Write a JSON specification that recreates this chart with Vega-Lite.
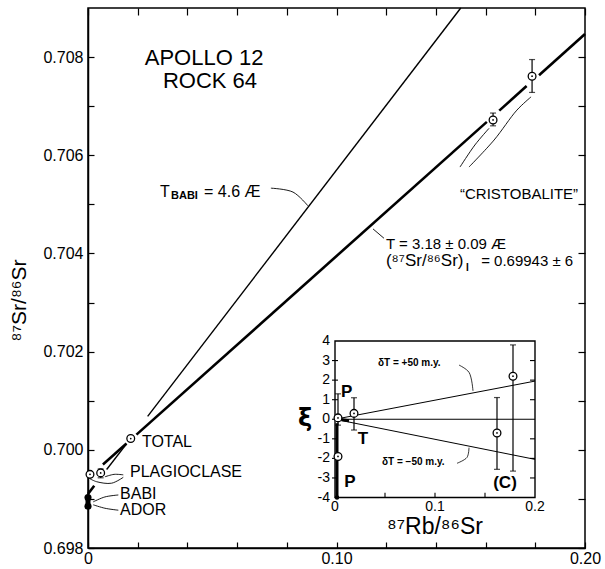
{
  "$schema": "https://vega.github.io/schema/vega-lite/v6.json",
  "width": 497,
  "height": 540,
  "autosize": {"type": "none"},
  "padding": {"left": 88, "top": 8, "right": 20, "bottom": 21},
  "background": "white",
  "config": {
    "view": {"stroke": "black", "strokeWidth": 1.5},
    "font": "Liberation Sans",
    "text": {"font": "Liberation Sans", "color": "black"}
  },
  "datasets": {
    "iso": [
      {"seg": "a", "x": 0.006, "y": 0.69970}, {"seg": "a", "x": 0.0155, "y": 0.70013},
      {"seg": "b", "x": 0.0195, "y": 0.70031}, {"seg": "b", "x": 0.1605, "y": 0.70668},
      {"seg": "c", "x": 0.1655, "y": 0.70691}, {"seg": "c", "x": 0.1765, "y": 0.70741},
      {"seg": "d", "x": 0.1815, "y": 0.70763}, {"seg": "d", "x": 0.2, "y": 0.70847},
      {"seg": "e", "x": 0.0, "y": 0.69910}, {"seg": "e", "x": 0.0025, "y": 0.69927}
    ],
    "babi": [
      {"seg": "a", "x": 0.0075, "y": 0.69960}, {"seg": "a", "x": 0.0155, "y": 0.70012},
      {"seg": "b", "x": 0.024, "y": 0.70068}, {"seg": "b", "x": 0.15, "y": 0.709}
    ],
    "mainPts": [
      {"s": "total", "x": 0.0172, "y": 0.70023},
      {"s": "plag1", "x": 0.0008, "y": 0.69950},
      {"s": "plag2", "x": 0.0051, "y": 0.69953},
      {"s": "cr1", "x": 0.163, "y": 0.70672},
      {"s": "cr2", "x": 0.1787, "y": 0.70761}
    ],
    "mainErr": [
      {"s": "plag2", "x": 0.0051, "lo": 0.69943, "hi": 0.69961},
      {"s": "cr1", "x": 0.163, "lo": 0.70660, "hi": 0.70686},
      {"s": "cr2", "x": 0.1787, "lo": 0.70728, "hi": 0.70795}
    ],
    "blob": [
      {"s": "BABI", "x": 0.0, "y": 0.69903},
      {"s": "ADOR", "x": 0.0, "y": 0.69885}
    ],
    "mainCurves": [
      {"c": "tbabi", "o": 1, "x": 0.0736, "y": 0.70533}, {"c": "tbabi", "o": 2, "x": 0.0825, "y": 0.70525}, {"c": "tbabi", "o": 3, "x": 0.0885, "y": 0.70497},
      {"c": "t318", "o": 1, "x": 0.1191, "y": 0.70431}, {"c": "t318", "o": 2, "x": 0.1147, "y": 0.70450},
      {"c": "crA", "o": 1, "x": 0.1497, "y": 0.70576}, {"c": "crA", "o": 2, "x": 0.1557, "y": 0.70621}, {"c": "crA", "o": 3, "x": 0.1614, "y": 0.70655},
      {"c": "crB", "o": 1, "x": 0.1533, "y": 0.70576}, {"c": "crB", "o": 2, "x": 0.1634, "y": 0.70631}, {"c": "crB", "o": 3, "x": 0.1726, "y": 0.70692}, {"c": "crB", "o": 4, "x": 0.1783, "y": 0.70719},
      {"c": "plag2", "o": 1, "x": 0.0142, "y": 0.69949}, {"c": "plag2", "o": 2, "x": 0.0105, "y": 0.69950}, {"c": "plag2", "o": 3, "x": 0.0068, "y": 0.69945},
      {"c": "plag1", "o": 1, "x": 0.0142, "y": 0.69944}, {"c": "plag1", "o": 2, "x": 0.0095, "y": 0.69932}, {"c": "plag1", "o": 3, "x": 0.0035, "y": 0.69935}, {"c": "plag1", "o": 4, "x": 0.0008, "y": 0.69941},
      {"c": "babiA", "o": 1, "x": 0.0122, "y": 0.69908}, {"c": "babiA", "o": 2, "x": 0.0068, "y": 0.69904}, {"c": "babiA", "o": 3, "x": 0.0021, "y": 0.69894},
      {"c": "adorA", "o": 1, "x": 0.0122, "y": 0.69877}, {"c": "adorA", "o": 2, "x": 0.0068, "y": 0.69881}, {"c": "adorA", "o": 3, "x": 0.0021, "y": 0.69888}
    ],
    "titleText": [
      {"t": "APOLLO 12", "x": 0.0467, "y": 0.70798},
      {"t": "ROCK 64", "x": 0.0491, "y": 0.70752}
    ],
    "labels16": [
      {"t": "TOTAL", "x": 0.0217, "y": 0.70015},
      {"t": "PLAGIOCLASE", "x": 0.0169, "y": 0.69954},
      {"t": "BABI", "x": 0.0129, "y": 0.69910},
      {"t": "ADOR", "x": 0.0129, "y": 0.69878},
      {"t": "T", "x": 0.0290, "y": 0.70526},
      {"t": "= 4.6 Æ", "x": 0.0467, "y": 0.70526}
    ],
    "labelsSub": [
      {"t": "BABI", "x": 0.0334, "y": 0.70518}
    ],
    "labels15": [
      {"t": "T = 3.18 ± 0.09 Æ", "x": 0.1199, "y": 0.70420},
      {"t": "= 0.69943 ± 6", "x": 0.1582, "y": 0.70384},
      {"t": "“CRISTOBALITE”", "x": 0.1497, "y": 0.70521}
    ],
    "labels17": [
      {"t": "(⁸⁷Sr/⁸⁶Sr)", "x": 0.1199, "y": 0.70384}
    ],
    "labelsSubI": [
      {"t": "I", "x": 0.1521, "y": 0.70371}
    ],
    "insetLines": [
      {"l": "zero", "x": 0, "y": 0}, {"l": "zero", "x": 0.2, "y": 0},
      {"l": "plus", "x": 0, "y": 0}, {"l": "plus", "x": 0.2, "y": 1.95},
      {"l": "minus", "x": 0, "y": 0}, {"l": "minus", "x": 0.2, "y": -2.05}
    ],
    "insetFrame": [{"x": 0, "x2": 0.2, "y": -4, "y2": 4}],
    "insetTicks": [
      {"x": -0.003, "x2": 0.003, "y": 3, "y2": 3}, {"x": -0.003, "x2": 0.003, "y": 2, "y2": 2},
      {"x": -0.003, "x2": 0.003, "y": 1, "y2": 1}, {"x": -0.003, "x2": 0.003, "y": 0, "y2": 0},
      {"x": -0.003, "x2": 0.003, "y": -1, "y2": -1}, {"x": -0.003, "x2": 0.003, "y": -2, "y2": -2},
      {"x": -0.003, "x2": 0.003, "y": -3, "y2": -3},
      {"x": 0.195, "x2": 0.2, "y": 3, "y2": 3}, {"x": 0.195, "x2": 0.2, "y": 2, "y2": 2},
      {"x": 0.195, "x2": 0.2, "y": 1, "y2": 1}, {"x": 0.195, "x2": 0.2, "y": -1, "y2": -1},
      {"x": 0.195, "x2": 0.2, "y": -2, "y2": -2}, {"x": 0.195, "x2": 0.2, "y": -3, "y2": -3},
      {"x": 0.05, "x2": 0.05, "y": -4, "y2": -3.75}, {"x": 0.1, "x2": 0.1, "y": -4, "y2": -3.75},
      {"x": 0.15, "x2": 0.15, "y": -4, "y2": -3.75}
    ],
    "insetYLabels": [
      {"v": 4, "t": "4"}, {"v": 3, "t": "3"}, {"v": 2, "t": "2"}, {"v": 1, "t": "1"},
      {"v": 0, "t": "0"}, {"v": -1, "t": "-1"}, {"v": -2, "t": "-2"}, {"v": -3, "t": "-3"}, {"v": -4, "t": "-4"}
    ],
    "insetXLabels": [
      {"v": 0, "t": "0"}, {"v": 0.1, "t": "0.1"}, {"v": 0.2, "t": "0.2"}
    ],
    "insetPts": [
      {"s": "P1", "x": 0.003, "y": 0.07},
      {"s": "T", "x": 0.019, "y": 0.3},
      {"s": "P2", "x": 0.003, "y": -1.9},
      {"s": "C1", "x": 0.162, "y": -0.7},
      {"s": "C2", "x": 0.178, "y": 2.2}
    ],
    "insetErr": [
      {"s": "P1", "x": 0.003, "lo": -0.3, "hi": 1.3},
      {"s": "T", "x": 0.019, "lo": -0.55, "hi": 1.1},
      {"s": "C1", "x": 0.162, "lo": -2.56, "hi": 1.11},
      {"s": "C2", "x": 0.178, "lo": -2.65, "hi": 3.8}
    ],
    "insetThick": [
      {"x": 0.002, "x2": 0.002, "y": -0.2, "y2": -4},
      {"x": 0.004, "x2": 0.014, "y": 0.0, "y2": -0.08}
    ],
    "insetBlob": [{"x": 0.002, "y": -4}],
    "insetLetters": [
      {"t": "P", "x": 0.0117, "y": 1.41},
      {"t": "T", "x": 0.028, "y": -1.02},
      {"t": "P", "x": 0.015, "y": -3.19},
      {"t": "(C)", "x": 0.170, "y": -3.27}
    ],
    "insetNotes": [
      {"t": "δT = +50 m.y.", "x": 0.043, "y": 2.9},
      {"t": "δT = −50 m.y.", "x": 0.047, "y": -2.2}
    ],
    "insetCurves": [
      {"c": "plus", "o": 1, "x": 0.124, "y": 2.77}, {"c": "plus", "o": 2, "x": 0.134, "y": 2.4}, {"c": "plus", "o": 3, "x": 0.138, "y": 1.45},
      {"c": "minus", "o": 1, "x": 0.122, "y": -2.25}, {"c": "minus", "o": 2, "x": 0.132, "y": -1.95}, {"c": "minus", "o": 3, "x": 0.134, "y": -1.45}
    ],
    "insetXi": [{"t": "ξ", "x": -0.030, "y": 0}],
    "insetRb": [{"t": "⁸⁷Rb/⁸⁶Sr", "x": 0.1, "y": -5.5}]
  },
  "layer": [
    {
      "layer": [
        {
          "data": {"name": "iso"},
          "mark": {"type": "line", "color": "black", "strokeWidth": 2.6},
          "encoding": {
            "x": {"field": "x", "type": "quantitative", "scale": {"domain": [0, 0.2], "nice": false, "zero": false},
              "axis": {"orient": "bottom", "values": [0, 0.02, 0.04, 0.06, 0.08, 0.1, 0.12, 0.14, 0.16, 0.18, 0.2],
                "labelExpr": "datum.value == 0 ? '0' : (abs(datum.value - 0.1) < 1e-6 ? '0.10' : (abs(datum.value - 0.2) < 1e-6 ? '0.20' : ''))",
                "tickSize": -6, "tickColor": "black", "tickWidth": 1.2, "domainColor": "black", "domainWidth": 1.5,
                "labelFont": "Liberation Sans", "labelFontSize": 16, "labelColor": "black", "labelPadding": 8,
                "title": null, "grid": false, "labelFlush": false, "labelOverlap": false}},
            "y": {"field": "y", "type": "quantitative", "scale": {"domain": [0.698, 0.709], "nice": false, "zero": false},
              "axis": {"orient": "left", "values": [0.698, 0.699, 0.7, 0.701, 0.702, 0.703, 0.704, 0.705, 0.706, 0.707, 0.708],
                "labelExpr": "round(datum.value * 1000) % 2 == 0 ? format(datum.value, '.3f') : ''",
                "tickSize": -6, "tickColor": "black", "tickWidth": 1.2, "domainColor": "black", "domainWidth": 1.5,
                "labelFont": "Liberation Sans", "labelFontSize": 16, "labelColor": "black", "labelPadding": 11,
                "grid": false, "labelOverlap": false,
                "title": "⁸⁷Sr/⁸⁶Sr", "titleFont": "Liberation Sans", "titleFontSize": 21, "titleFontWeight": "normal",
                "titleColor": "black", "titleAngle": 270, "titleX": -63, "titleY": 292, "titleAlign": "center", "titleBaseline": "alphabetic"}},
            "detail": {"field": "seg"}
          }
        },
        {
          "data": {"name": "babi"},
          "mark": {"type": "line", "color": "black", "strokeWidth": 1.4},
          "encoding": {
            "x": {"field": "x", "type": "quantitative", "scale": {"domain": [0, 0.2], "nice": false, "zero": false},
              "axis": {"orient": "top", "values": [0, 0.02, 0.04, 0.06, 0.08, 0.1, 0.12, 0.14, 0.16, 0.18, 0.2],
                "labels": false, "tickSize": -7, "tickColor": "black", "tickWidth": 1.2, "domain": false, "title": null, "grid": false}},
            "y": {"field": "y", "type": "quantitative", "scale": {"domain": [0.698, 0.709], "nice": false, "zero": false},
              "axis": {"orient": "right", "values": [0.698, 0.699, 0.7, 0.701, 0.702, 0.703, 0.704, 0.705, 0.706, 0.707, 0.708],
                "labels": false, "tickSize": -7, "tickColor": "black", "tickWidth": 1.2, "domain": false, "title": null, "grid": false}},
            "detail": {"field": "seg"}
          }
        },
        {
          "data": {"name": "mainCurves"},
          "mark": {"type": "line", "color": "black", "strokeWidth": 0.9, "interpolate": "catmull-rom"},
          "encoding": {
            "x": {"field": "x", "type": "quantitative", "axis": null},
            "y": {"field": "y", "type": "quantitative", "axis": null},
            "detail": {"field": "c"},
            "order": {"field": "o"}
          }
        },
        {
          "data": {"name": "blob"},
          "mark": {"type": "line", "color": "black", "strokeWidth": 5},
          "encoding": {
            "x": {"field": "x", "type": "quantitative", "axis": null},
            "y": {"field": "y", "type": "quantitative", "axis": null}
          }
        },
        {
          "data": {"name": "mainErr"},
          "mark": {"type": "rule", "color": "black", "strokeWidth": 1.2},
          "encoding": {
            "x": {"field": "x", "type": "quantitative", "axis": null},
            "y": {"field": "lo", "type": "quantitative", "axis": null},
            "y2": {"field": "hi"}
          }
        },
        {
          "data": {"name": "mainErr"},
          "mark": {"type": "tick", "orient": "horizontal", "color": "black", "size": 6, "thickness": 1.2},
          "encoding": {
            "x": {"field": "x", "type": "quantitative", "axis": null},
            "y": {"field": "lo", "type": "quantitative", "axis": null}
          }
        },
        {
          "data": {"name": "mainErr"},
          "mark": {"type": "tick", "orient": "horizontal", "color": "black", "size": 6, "thickness": 1.2},
          "encoding": {
            "x": {"field": "x", "type": "quantitative", "axis": null},
            "y": {"field": "hi", "type": "quantitative", "axis": null}
          }
        },
        {
          "data": {"name": "mainPts"},
          "mark": {"type": "point", "shape": "circle", "size": 60, "filled": true, "fill": "white", "stroke": "black", "strokeWidth": 1.3, "opacity": 1},
          "encoding": {
            "x": {"field": "x", "type": "quantitative", "axis": null},
            "y": {"field": "y", "type": "quantitative", "axis": null}
          }
        },
        {
          "data": {"name": "mainPts"},
          "mark": {"type": "point", "shape": "circle", "size": 3, "filled": true, "color": "black", "opacity": 1},
          "encoding": {
            "x": {"field": "x", "type": "quantitative", "axis": null},
            "y": {"field": "y", "type": "quantitative", "axis": null}
          }
        },
        {
          "data": {"name": "blob"},
          "mark": {"type": "point", "shape": "circle", "size": 50, "filled": true, "color": "black", "opacity": 1},
          "encoding": {
            "x": {"field": "x", "type": "quantitative", "axis": null},
            "y": {"field": "y", "type": "quantitative", "axis": null}
          }
        },
        {
          "data": {"name": "titleText"},
          "mark": {"type": "text", "fontSize": 22, "align": "center", "baseline": "middle", "font": "Liberation Sans"},
          "encoding": {
            "x": {"field": "x", "type": "quantitative", "axis": null},
            "y": {"field": "y", "type": "quantitative", "axis": null},
            "text": {"field": "t"}
          }
        },
        {
          "data": {"name": "labels16"},
          "mark": {"type": "text", "fontSize": 16, "align": "left", "baseline": "middle", "font": "Liberation Sans"},
          "encoding": {
            "x": {"field": "x", "type": "quantitative", "axis": null},
            "y": {"field": "y", "type": "quantitative", "axis": null},
            "text": {"field": "t"}
          }
        },
        {
          "data": {"name": "labelsSub"},
          "mark": {"type": "text", "fontSize": 11, "fontWeight": "bold", "align": "left", "baseline": "middle", "font": "Liberation Sans"},
          "encoding": {
            "x": {"field": "x", "type": "quantitative", "axis": null},
            "y": {"field": "y", "type": "quantitative", "axis": null},
            "text": {"field": "t"}
          }
        },
        {
          "data": {"name": "labels15"},
          "mark": {"type": "text", "fontSize": 15, "align": "left", "baseline": "middle", "font": "Liberation Sans"},
          "encoding": {
            "x": {"field": "x", "type": "quantitative", "axis": null},
            "y": {"field": "y", "type": "quantitative", "axis": null},
            "text": {"field": "t"}
          }
        },
        {
          "data": {"name": "labels17"},
          "mark": {"type": "text", "fontSize": 17, "align": "left", "baseline": "middle", "font": "Liberation Sans"},
          "encoding": {
            "x": {"field": "x", "type": "quantitative", "axis": null},
            "y": {"field": "y", "type": "quantitative", "axis": null},
            "text": {"field": "t"}
          }
        },
        {
          "data": {"name": "labelsSubI"},
          "mark": {"type": "text", "fontSize": 10, "fontWeight": "bold", "align": "left", "baseline": "middle", "font": "Liberation Sans"},
          "encoding": {
            "x": {"field": "x", "type": "quantitative", "axis": null},
            "y": {"field": "y", "type": "quantitative", "axis": null},
            "text": {"field": "t"}
          }
        }
      ],
      "resolve": {"axis": {"x": "independent", "y": "independent"}}
    },
    {
      "layer": [
        {
          "data": {"name": "insetLines"},
          "mark": {"type": "line", "color": "black", "strokeWidth": 1},
          "encoding": {
            "x": {"field": "x", "type": "quantitative", "axis": null, "scale": {"domain": [-0.247, 0.25], "nice": false, "zero": false}},
            "y": {"field": "y", "type": "quantitative", "axis": null, "scale": {"domain": [-6.58, 21.02], "nice": false, "zero": false}},
            "detail": {"field": "l"}
          }
        },
        {
          "data": {"name": "insetFrame"},
          "mark": {"type": "rect", "fill": null, "filled": false, "stroke": "black", "strokeWidth": 1.4},
          "encoding": {
            "x": {"field": "x", "type": "quantitative", "axis": null, "scale": {"domain": [-0.247, 0.25], "nice": false, "zero": false}},
            "x2": {"field": "x2"},
            "y": {"field": "y", "type": "quantitative", "axis": null, "scale": {"domain": [-6.58, 21.02], "nice": false, "zero": false}},
            "y2": {"field": "y2"}
          }
        },
        {
          "data": {"name": "insetTicks"},
          "mark": {"type": "rule", "color": "black", "strokeWidth": 1.1},
          "encoding": {
            "x": {"field": "x", "type": "quantitative", "axis": null, "scale": {"domain": [-0.247, 0.25], "nice": false, "zero": false}},
            "x2": {"field": "x2"},
            "y": {"field": "y", "type": "quantitative", "axis": null, "scale": {"domain": [-6.58, 21.02], "nice": false, "zero": false}},
            "y2": {"field": "y2"}
          }
        },
        {
          "data": {"name": "insetYLabels"},
          "mark": {"type": "text", "fontSize": 14, "align": "right", "baseline": "middle", "font": "Liberation Sans", "dx": -5},
          "encoding": {
            "x": {"datum": 0, "type": "quantitative", "axis": null, "scale": {"domain": [-0.247, 0.25], "nice": false, "zero": false}},
            "y": {"field": "v", "type": "quantitative", "axis": null, "scale": {"domain": [-6.58, 21.02], "nice": false, "zero": false}},
            "text": {"field": "t"}
          }
        },
        {
          "data": {"name": "insetXLabels"},
          "mark": {"type": "text", "fontSize": 14, "align": "center", "baseline": "top", "font": "Liberation Sans", "dy": 2},
          "encoding": {
            "x": {"field": "v", "type": "quantitative", "axis": null, "scale": {"domain": [-0.247, 0.25], "nice": false, "zero": false}},
            "y": {"datum": -4, "type": "quantitative", "axis": null, "scale": {"domain": [-6.58, 21.02], "nice": false, "zero": false}},
            "text": {"field": "t"}
          }
        },
        {
          "data": {"name": "insetThick"},
          "mark": {"type": "rule", "color": "black", "strokeWidth": 3},
          "encoding": {
            "x": {"field": "x", "type": "quantitative", "axis": null, "scale": {"domain": [-0.247, 0.25], "nice": false, "zero": false}},
            "x2": {"field": "x2"},
            "y": {"field": "y", "type": "quantitative", "axis": null, "scale": {"domain": [-6.58, 21.02], "nice": false, "zero": false}},
            "y2": {"field": "y2"}
          }
        },
        {
          "data": {"name": "insetErr"},
          "mark": {"type": "rule", "color": "black", "strokeWidth": 1.2},
          "encoding": {
            "x": {"field": "x", "type": "quantitative", "axis": null, "scale": {"domain": [-0.247, 0.25], "nice": false, "zero": false}},
            "y": {"field": "lo", "type": "quantitative", "axis": null, "scale": {"domain": [-6.58, 21.02], "nice": false, "zero": false}},
            "y2": {"field": "hi"}
          }
        },
        {
          "data": {"name": "insetErr"},
          "mark": {"type": "tick", "orient": "horizontal", "color": "black", "size": 6, "thickness": 1.2},
          "encoding": {
            "x": {"field": "x", "type": "quantitative", "axis": null, "scale": {"domain": [-0.247, 0.25], "nice": false, "zero": false}},
            "y": {"field": "lo", "type": "quantitative", "axis": null, "scale": {"domain": [-6.58, 21.02], "nice": false, "zero": false}}
          }
        },
        {
          "data": {"name": "insetErr"},
          "mark": {"type": "tick", "orient": "horizontal", "color": "black", "size": 6, "thickness": 1.2},
          "encoding": {
            "x": {"field": "x", "type": "quantitative", "axis": null, "scale": {"domain": [-0.247, 0.25], "nice": false, "zero": false}},
            "y": {"field": "hi", "type": "quantitative", "axis": null, "scale": {"domain": [-6.58, 21.02], "nice": false, "zero": false}}
          }
        },
        {
          "data": {"name": "insetPts"},
          "mark": {"type": "point", "shape": "circle", "size": 60, "filled": true, "fill": "white", "stroke": "black", "strokeWidth": 1.3, "opacity": 1},
          "encoding": {
            "x": {"field": "x", "type": "quantitative", "axis": null, "scale": {"domain": [-0.247, 0.25], "nice": false, "zero": false}},
            "y": {"field": "y", "type": "quantitative", "axis": null, "scale": {"domain": [-6.58, 21.02], "nice": false, "zero": false}}
          }
        },
        {
          "data": {"name": "insetPts"},
          "mark": {"type": "point", "shape": "circle", "size": 3, "filled": true, "color": "black", "opacity": 1},
          "encoding": {
            "x": {"field": "x", "type": "quantitative", "axis": null, "scale": {"domain": [-0.247, 0.25], "nice": false, "zero": false}},
            "y": {"field": "y", "type": "quantitative", "axis": null, "scale": {"domain": [-6.58, 21.02], "nice": false, "zero": false}}
          }
        },
        {
          "data": {"name": "insetBlob"},
          "mark": {"type": "point", "shape": "circle", "size": 20, "filled": true, "color": "black", "opacity": 1},
          "encoding": {
            "x": {"field": "x", "type": "quantitative", "axis": null, "scale": {"domain": [-0.247, 0.25], "nice": false, "zero": false}},
            "y": {"field": "y", "type": "quantitative", "axis": null, "scale": {"domain": [-6.58, 21.02], "nice": false, "zero": false}}
          }
        },
        {
          "data": {"name": "insetCurves"},
          "mark": {"type": "line", "color": "black", "strokeWidth": 0.8, "interpolate": "catmull-rom"},
          "encoding": {
            "x": {"field": "x", "type": "quantitative", "axis": null, "scale": {"domain": [-0.247, 0.25], "nice": false, "zero": false}},
            "y": {"field": "y", "type": "quantitative", "axis": null, "scale": {"domain": [-6.58, 21.02], "nice": false, "zero": false}},
            "detail": {"field": "c"},
            "order": {"field": "o"}
          }
        },
        {
          "data": {"name": "insetLetters"},
          "mark": {"type": "text", "fontSize": 17, "fontWeight": "bold", "align": "center", "baseline": "middle", "font": "Liberation Sans"},
          "encoding": {
            "x": {"field": "x", "type": "quantitative", "axis": null, "scale": {"domain": [-0.247, 0.25], "nice": false, "zero": false}},
            "y": {"field": "y", "type": "quantitative", "axis": null, "scale": {"domain": [-6.58, 21.02], "nice": false, "zero": false}},
            "text": {"field": "t"}
          }
        },
        {
          "data": {"name": "insetNotes"},
          "mark": {"type": "text", "fontSize": 10, "fontWeight": "bold", "align": "left", "baseline": "middle", "font": "Liberation Sans"},
          "encoding": {
            "x": {"field": "x", "type": "quantitative", "axis": null, "scale": {"domain": [-0.247, 0.25], "nice": false, "zero": false}},
            "y": {"field": "y", "type": "quantitative", "axis": null, "scale": {"domain": [-6.58, 21.02], "nice": false, "zero": false}},
            "text": {"field": "t"}
          }
        },
        {
          "data": {"name": "insetXi"},
          "mark": {"type": "text", "fontSize": 24, "fontWeight": "bold", "align": "center", "baseline": "middle", "font": "DejaVu Sans"},
          "encoding": {
            "x": {"field": "x", "type": "quantitative", "axis": null, "scale": {"domain": [-0.247, 0.25], "nice": false, "zero": false}},
            "y": {"field": "y", "type": "quantitative", "axis": null, "scale": {"domain": [-6.58, 21.02], "nice": false, "zero": false}},
            "text": {"field": "t"}
          }
        },
        {
          "data": {"name": "insetRb"},
          "mark": {"type": "text", "fontSize": 23, "align": "center", "baseline": "middle", "font": "Liberation Sans"},
          "encoding": {
            "x": {"field": "x", "type": "quantitative", "axis": null, "scale": {"domain": [-0.247, 0.25], "nice": false, "zero": false}},
            "y": {"field": "y", "type": "quantitative", "axis": null, "scale": {"domain": [-6.58, 21.02], "nice": false, "zero": false}},
            "text": {"field": "t"}
          }
        }
      ]
    }
  ],
  "resolve": {"scale": {"x": "independent", "y": "independent"}}
}
